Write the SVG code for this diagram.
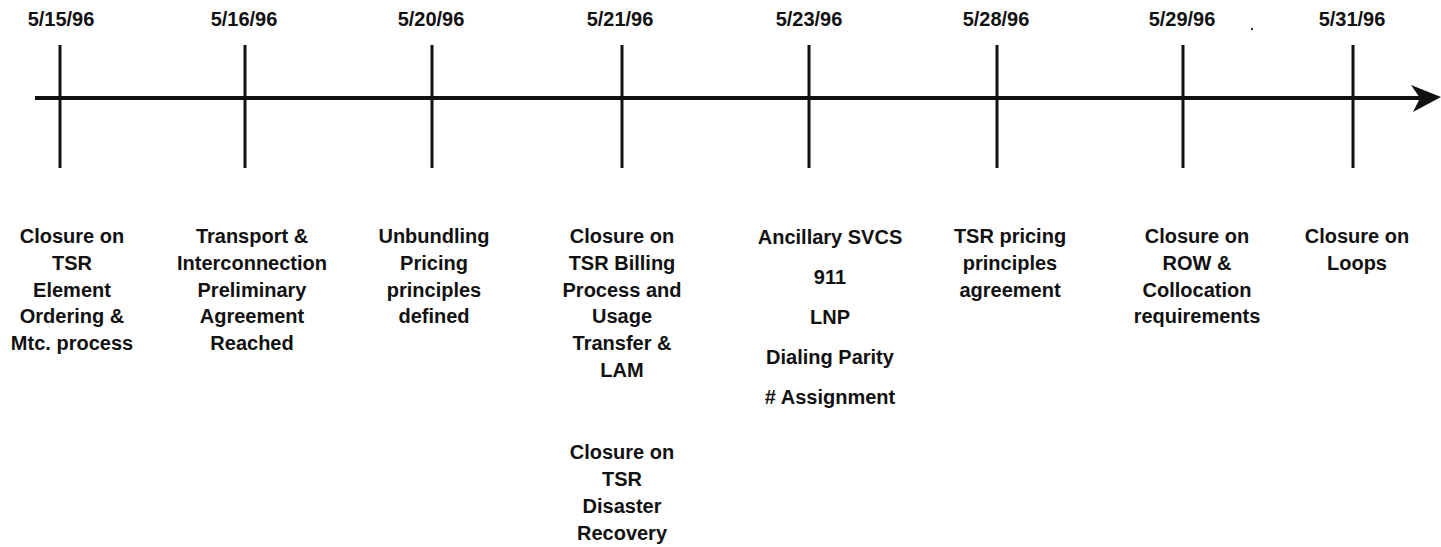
<svg xmlns="http://www.w3.org/2000/svg" width="1441" height="547" viewBox="0 0 1441 547">
<style>
text{font-family:"Liberation Sans",Arial,sans-serif;font-weight:bold;font-size:20px;fill:#111;text-anchor:middle}
.tick{stroke:#111;stroke-width:3;fill:none}
.axis{stroke:#111;stroke-width:4;fill:none}
</style>
<rect width="1441" height="547" fill="#fff"/>
<g id="connectors">
<line class="axis" x1="35" y1="98" x2="1420" y2="98"/>
<polygon points="1411,85 1441,97 1413,112 1420,98" fill="#111"/>
<line class="tick" x1="60" y1="45" x2="60" y2="168"/>
<line class="tick" x1="245" y1="45" x2="245" y2="168"/>
<line class="tick" x1="432" y1="45" x2="432" y2="168"/>
<line class="tick" x1="622" y1="45" x2="622" y2="168"/>
<line class="tick" x1="809" y1="45" x2="809" y2="168"/>
<line class="tick" x1="997" y1="45" x2="997" y2="168"/>
<line class="tick" x1="1183" y1="45" x2="1183" y2="168"/>
<line class="tick" x1="1353" y1="45" x2="1353" y2="168"/>
</g>
<circle cx="1252" cy="29" r="1.2" fill="#333"/>
<g id="n1"><text x="61" y="26">5/15/96</text>
<text x="72" y="243">Closure on</text><text x="72" y="270">TSR</text><text x="72" y="297">Element</text><text x="72" y="323">Ordering &amp;</text><text x="72" y="350">Mtc. process</text></g>
<g id="n2"><text x="244" y="26">5/16/96</text>
<text x="252" y="243">Transport &amp;</text><text x="252" y="270">Interconnection</text><text x="252" y="297">Preliminary</text><text x="252" y="323">Agreement</text><text x="252" y="350">Reached</text></g>
<g id="n3"><text x="431" y="26">5/20/96</text>
<text x="434" y="243">Unbundling</text><text x="434" y="270">Pricing</text><text x="434" y="297">principles</text><text x="434" y="323">defined</text></g>
<g id="n4"><text x="620" y="26">5/21/96</text>
<text x="622" y="243">Closure on</text><text x="622" y="270">TSR Billing</text><text x="622" y="297">Process and</text><text x="622" y="323">Usage</text><text x="622" y="350">Transfer &amp;</text><text x="622" y="377">LAM</text>
<text x="622" y="459">Closure on</text><text x="622" y="486">TSR</text><text x="622" y="513">Disaster</text><text x="622" y="540">Recovery</text></g>
<g id="n5"><text x="809" y="26">5/23/96</text>
<text x="830" y="244">Ancillary SVCS</text><text x="830" y="284">911</text><text x="830" y="324">LNP</text><text x="830" y="364">Dialing Parity</text><text x="830" y="404"># Assignment</text></g>
<g id="n6"><text x="996" y="26">5/28/96</text>
<text x="1010" y="243">TSR pricing</text><text x="1010" y="270">principles</text><text x="1010" y="297">agreement</text></g>
<g id="n7"><text x="1182" y="26">5/29/96</text>
<text x="1197" y="243">Closure on</text><text x="1197" y="270">ROW &amp;</text><text x="1197" y="297">Collocation</text><text x="1197" y="323">requirements</text></g>
<g id="n8"><text x="1352" y="26">5/31/96</text>
<text x="1357" y="243">Closure on</text><text x="1357" y="270">Loops</text></g>
</svg>
